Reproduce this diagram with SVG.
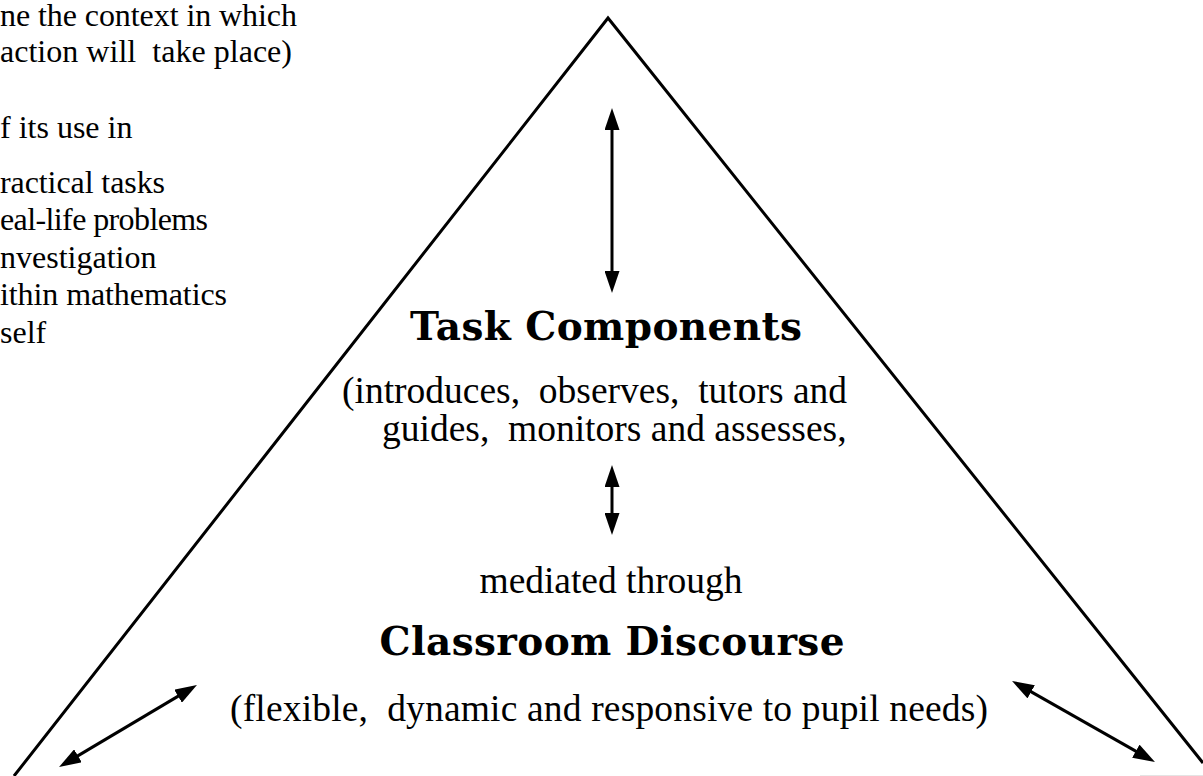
<svg xmlns="http://www.w3.org/2000/svg" width="1203" height="776" viewBox="0 0 1203 776">
<style>
.t{font-family:"Liberation Serif","Times New Roman",serif;fill:#000;white-space:pre}
.l{font-size:32px}
.m{font-size:37.5px}
.c{text-anchor:middle}
.b{font-family:"DejaVu Serif","Liberation Serif",serif;font-weight:bold;font-size:39px;text-anchor:middle;fill:#000}
.edge{stroke:#000;stroke-width:3;fill:none}
.arr{stroke:#000;stroke-width:3;fill:none;marker-start:url(#ah);marker-end:url(#ah)}
</style>
<defs>
<marker id="ah" markerUnits="userSpaceOnUse" markerWidth="22" markerHeight="15" refX="11" refY="7.5" orient="auto-start-reverse" viewBox="0 0 22 15">
<path d="M0,0 L22,7.5 L0,15 z" fill="#000"/>
</marker>
</defs>
<rect width="1203" height="776" fill="#fff"/>
<g id="context-text">
<text class="t l" x="0" y="26" textLength="297">ne the context in which</text>
<text class="t l" x="0" y="62" textLength="292">action will  take place)</text>
<text class="t l" x="0" y="138">f its use in</text>
<text class="t l" x="0" y="193" textLength="165">ractical tasks</text>
<text class="t l" x="0" y="230" textLength="208">eal-life problems</text>
<text class="t l" x="0" y="268">nvestigation</text>
<text class="t l" x="0" y="305" textLength="227">ithin mathematics</text>
<text class="t l" x="0" y="343">self</text>
</g>
<g id="triangle">
<path class="edge" d="M14,776 L608,18 L1203,763"/>
<line x1="1140" y1="775.5" x2="1203" y2="775.5" stroke="#e4e4e4" stroke-width="1"/>
</g>
<g id="task-components">
<text class="b" x="606" y="340" textLength="392">Task Components</text>
<text class="t m" x="342" y="403">(introduces,  observes,  tutors and</text>
<text class="t m" x="382" y="441">guides,  monitors and assesses,</text>
</g>
<g id="mediation">
<text class="t m c" x="611" y="593" textLength="263">mediated through</text>
</g>
<g id="classroom-discourse">
<text class="b" x="612" y="655" textLength="465">Classroom Discourse</text>
<text class="t m c" x="609" y="721" textLength="758">(flexible,  dynamic and responsive to pupil needs)</text>
</g>
<g id="connectors">
<line class="arr" x1="612" y1="119" x2="612" y2="282"/>
<line class="arr" x1="612" y1="476" x2="612" y2="524"/>
<line class="arr" x1="68.5" y1="761.4" x2="187.5" y2="690.6"/>
<line class="arr" x1="1021.6" y1="686.4" x2="1145.4" y2="756.6"/>
</g>
</svg>
